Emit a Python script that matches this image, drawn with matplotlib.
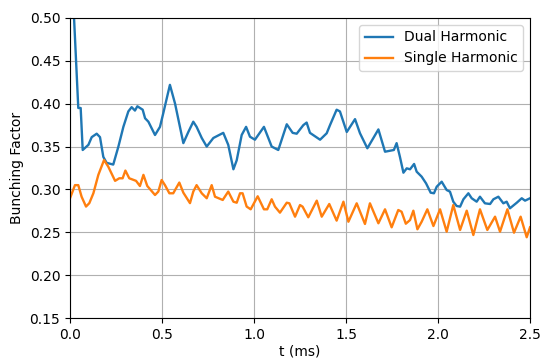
import numpy as np
import matplotlib
matplotlib.use("Agg")
import matplotlib.pyplot as plt

# dual harmonic bunching factor
t_dual = [0.0, 0.045, 0.058, 0.069, 0.10, 0.118, 0.145, 0.163, 0.181, 0.199,
          0.235, 0.263, 0.29, 0.317, 0.335, 0.353, 0.366, 0.395, 0.408, 0.426,
          0.462, 0.489, 0.507, 0.543, 0.571, 0.616, 0.643, 0.67, 0.688, 0.716,
          0.743, 0.779, 0.833, 0.86, 0.888, 0.906, 0.933, 0.957, 0.978, 1.005,
          1.054, 1.096, 1.132, 1.178, 1.21, 1.232, 1.268, 1.286, 1.304, 1.359,
          1.395, 1.413, 1.449, 1.467, 1.504, 1.549, 1.576, 1.616, 1.676, 1.712,
          1.76, 1.775, 1.793, 1.812, 1.83, 1.848, 1.87, 1.884, 1.911, 1.935,
          1.96, 1.978, 1.993, 2.02, 2.047, 2.065, 2.083, 2.101, 2.12, 2.138,
          2.165, 2.183, 2.21, 2.228, 2.255, 2.283, 2.301, 2.328, 2.355, 2.373,
          2.391, 2.428, 2.455, 2.473, 2.5]
bf_dual = [0.60, 0.395, 0.395, 0.346, 0.352, 0.361, 0.365, 0.361, 0.338, 0.331,
           0.329, 0.350, 0.373, 0.391, 0.396, 0.392, 0.397, 0.393, 0.383, 0.379,
           0.3635, 0.373, 0.389, 0.422, 0.400, 0.354, 0.367, 0.379, 0.373, 0.360,
           0.350, 0.360, 0.366, 0.352, 0.3235, 0.334, 0.3635, 0.373, 0.3615, 0.358,
           0.373, 0.350, 0.346, 0.376, 0.366, 0.365, 0.375, 0.378, 0.366, 0.358,
           0.3655, 0.375, 0.393, 0.391, 0.367, 0.382, 0.3655, 0.348, 0.370, 0.344,
           0.346, 0.354, 0.338, 0.3195, 0.3246, 0.3235, 0.3297, 0.3207, 0.3149, 0.3071,
           0.2962, 0.2955, 0.3032, 0.309, 0.2993, 0.2974, 0.2857, 0.2807, 0.2799, 0.2885,
           0.2955, 0.2897, 0.2857, 0.2915, 0.2838, 0.283, 0.2885, 0.2915, 0.2838, 0.2857,
           0.278, 0.2845, 0.2897, 0.2869, 0.2897]

# single harmonic bunching factor
t_single = [0.0, 0.027, 0.045, 0.063, 0.087, 0.105, 0.127, 0.154, 0.185, 0.208,
            0.245, 0.268, 0.286, 0.301, 0.322, 0.359, 0.38, 0.399, 0.42, 0.462,
            0.48, 0.498, 0.516, 0.54, 0.561, 0.594, 0.616, 0.652, 0.67, 0.688,
            0.716, 0.743, 0.77, 0.788, 0.83, 0.86, 0.888, 0.906, 0.924, 0.938,
            0.96, 0.982, 1.02, 1.054, 1.072, 1.096, 1.114, 1.141, 1.178, 1.192,
            1.223, 1.25, 1.264, 1.295, 1.341, 1.368, 1.409, 1.449, 1.486, 1.513,
            1.558, 1.603, 1.63, 1.676, 1.712, 1.748, 1.784, 1.802, 1.825, 1.848,
            1.866, 1.888, 1.911, 1.942, 1.975, 2.011, 2.047, 2.083, 2.12, 2.156,
            2.192, 2.228, 2.268, 2.31, 2.337, 2.377, 2.413, 2.449, 2.482, 2.5]
bf_single = [0.2897, 0.305, 0.305, 0.2915, 0.280, 0.284, 0.2955, 0.317, 0.3343, 0.3265,
             0.310, 0.313, 0.313, 0.322, 0.313, 0.310, 0.304, 0.317, 0.304, 0.2935,
             0.2975, 0.311, 0.305, 0.2955, 0.2955, 0.308, 0.2962, 0.284, 0.2975, 0.305,
             0.2955, 0.2897, 0.305, 0.2915, 0.2877, 0.2975, 0.2857, 0.2845, 0.2955, 0.2955,
             0.280, 0.2768, 0.292, 0.2768, 0.2768, 0.2885, 0.2799, 0.2729, 0.2845, 0.2838,
             0.2682, 0.2818, 0.2799, 0.2675, 0.2869, 0.2682, 0.283, 0.2636, 0.2857, 0.2623,
             0.2838, 0.2597, 0.2838, 0.2605, 0.2768, 0.2558, 0.276, 0.274, 0.260, 0.2643,
             0.2752, 0.2535, 0.2623, 0.2768, 0.2573, 0.2768, 0.2507, 0.2818, 0.2527, 0.2752,
             0.2468, 0.2768, 0.2527, 0.2682, 0.2507, 0.2768, 0.2495, 0.2682, 0.2442, 0.2558]

fig = plt.figure(figsize=(5.41, 3.59), dpi=100)
ax = fig.add_axes([0.1294, 0.1142, 0.8503, 0.8357])
ax.plot(t_dual, bf_dual, color="#1f77b4", lw=1.7, label="Dual Harmonic")
ax.plot(t_single, bf_single, color="#ff7f0e", lw=1.7, label="Single Harmonic")
ax.set_xlim(0, 2.5)
ax.set_ylim(0.15, 0.50)
ax.set_xlabel("t (ms)", labelpad=2)
ax.set_ylabel("Bunching Factor")
ax.grid(True)
ax.legend(loc="upper right")
fig.savefig("out.png", dpi=100)
